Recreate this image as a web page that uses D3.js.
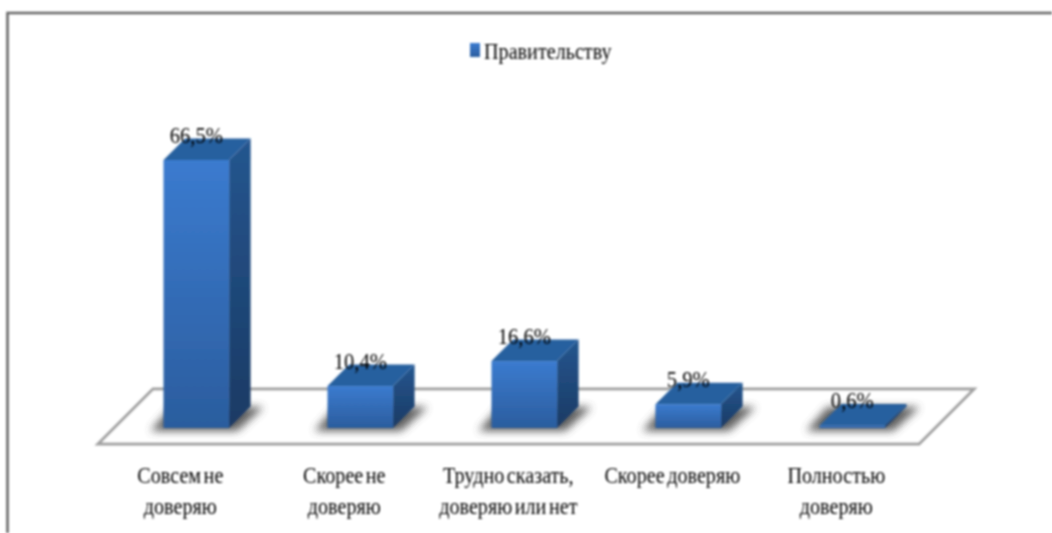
<!DOCTYPE html>
<html>
<head>
<meta charset="utf-8">
<script src="https://cdn.jsdelivr.net/npm/d3@7"></script>
<style>
  html, body { margin: 0; padding: 0; background: #fff; overflow: hidden; }
  text { font-family: "Liberation Serif", serif; fill: #000; }
</style>
</head>
<body>
<svg id="chart"></svg>
<script>
const categories = [
  ["Совсем не", "доверяю"],
  ["Скорее не", "доверяю"],
  ["Трудно сказать,", "доверяю или нет"],
  ["Скорее доверяю"],
  ["Полностью", "доверяю"]
];
const values = [66.5, 10.4, 16.6, 5.9, 0.6];
const valueLabels = ["66,5%", "10,4%", "16,6%", "5,9%", "0,6%"];
const seriesName = "Правительству";

const width = 1052, height = 533;
const depth = 21.5;       // 3d offset of the bars, up and to the right
const textSqueeze = 0.84; // the source text is squashed horizontally

const svg = d3.select("#chart")
  .attr("width", width)
  .attr("height", height)
  .style("display", "block");

const x = d3.scaleBand()
  .domain(d3.range(values.length))
  .range([114.3, 934.3])
  .paddingInner(0.6)
  .paddingOuter(0.3);

const y = d3.scaleLinear()
  .domain([0, 66.5])
  .range([428, 160]);

const defs = svg.append("defs");

function addGradient(id, top, bottom) {
  const g = defs.append("linearGradient")
    .attr("id", id)
    .attr("x1", 0).attr("y1", 0).attr("x2", 0).attr("y2", 1);
  g.append("stop").attr("offset", "0%").attr("stop-color", top);
  g.append("stop").attr("offset", "100%").attr("stop-color", bottom);
}
addGradient("front", "#3b7bcf", "#2b5d9e");
addGradient("side", "#25568f", "#1a3a64");

function addBlur(id, amount) {
  defs.append("filter").attr("id", id)
    .attr("filterUnits", "userSpaceOnUse")
    .attr("x", 0).attr("y", 0).attr("width", width).attr("height", height)
    .append("feGaussianBlur").attr("stdDeviation", amount);
}
addBlur("soft", 0.8);
addBlur("shadow", 4.5);

// Frame of the cropped chart area
svg.append("path")
  .attr("d", `M7.5,${height}V13H${width}`)
  .attr("fill", "none")
  .attr("stroke", "#666")
  .attr("stroke-width", 2.6)
  .attr("filter", "url(#soft)");

// Floor
svg.append("path")
  .attr("d", "M98,444L153,389H974L919,444Z")
  .attr("fill", "#fff")
  .attr("stroke", "#a0a0a0")
  .attr("stroke-width", 3)
  .attr("filter", "url(#soft)");

// Shadows on the floor
svg.append("g")
  .attr("filter", "url(#shadow)")
  .attr("opacity", 0.85)
  .selectAll("path")
  .data(values)
  .join("path")
  .attr("d", (d, i) => {
    const x0 = x(i), x1 = x(i) + x.bandwidth(), b = y(0);
    return `M${x0 - 13},${b + 3}L${x0 + 8},${b - 21}H${x1 + depth + 13}L${x1 + 8},${b + 3}Z`;
  })
  .attr("fill", "#444");

// Bars
const bars = svg.append("g").attr("filter", "url(#soft)")
  .selectAll("g")
  .data(values)
  .join("g");

bars.append("path")
  .attr("d", (d, i) => {
    const x1 = x(i) + x.bandwidth();
    return `M${x1},${y(d)}L${x1 + depth},${y(d) - depth}V${y(0) - depth}L${x1},${y(0)}Z`;
  })
  .attr("fill", "url(#side)");

bars.append("path")
  .attr("d", (d, i) => {
    const x0 = x(i), x1 = x(i) + x.bandwidth();
    return `M${x0},${y(d)}L${x0 + depth},${y(d) - depth}H${x1 + depth}L${x1},${y(d)}Z`;
  })
  .attr("fill", "#28609f");

bars.append("rect")
  .attr("x", (d, i) => x(i))
  .attr("y", d => y(d))
  .attr("width", x.bandwidth())
  .attr("height", d => y(0) - y(d))
  .attr("fill", "url(#front)");

const textLayer = svg.append("g").attr("filter", "url(#soft)");

// Value labels
textLayer.selectAll("text.value")
  .data(values)
  .join("text")
  .attr("class", "value")
  .attr("text-anchor", "middle")
  .attr("font-size", 24)
  .attr("transform", (d, i) =>
    `translate(${x(i) + x.bandwidth() / 2},${y(d) - 17.5}) scale(0.86,1)`)
  .text((d, i) => valueLabels[i]);

// Category labels, two lines at most
const catLabels = textLayer.selectAll("text.cat")
  .data(categories)
  .join("text")
  .attr("class", "cat")
  .attr("text-anchor", "middle")
  .attr("font-size", 24)
  .attr("word-spacing", -3)
  .attr("transform", (d, i) =>
    `translate(${x(i) + x.bandwidth() / 2 - 16},483) scale(${textSqueeze},1)`);

catLabels.selectAll("tspan")
  .data(d => d)
  .join("tspan")
  .attr("x", 0)
  .attr("y", (d, i) => i * 31)
  .text(d => d);

// Legend
svg.append("rect")
  .attr("x", 470)
  .attr("y", 43)
  .attr("width", 10)
  .attr("height", 14)
  .attr("fill", "url(#front)")
  .attr("filter", "url(#soft)");

textLayer.append("text")
  .attr("font-size", 24)
  .attr("transform", `translate(484,59) scale(${textSqueeze},1)`)
  .text(seriesName);
</script>
</body>
</html>
